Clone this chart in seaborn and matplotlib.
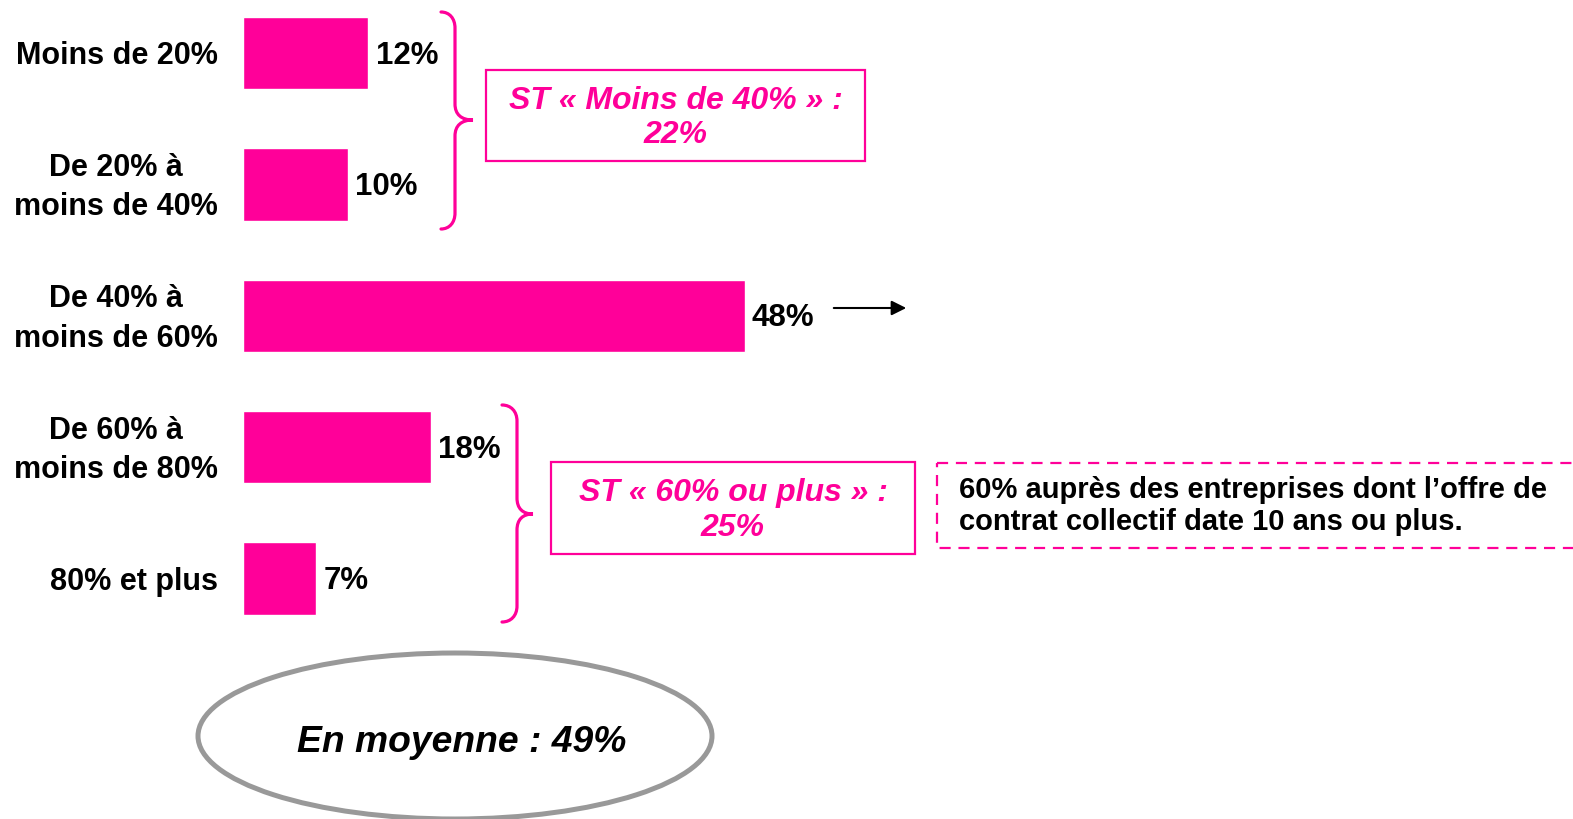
import matplotlib
matplotlib.use("Agg")
import matplotlib.pyplot as plt
import seaborn as sns
from matplotlib.patches import Rectangle, Ellipse, PathPatch
from matplotlib.path import Path

# data
categories = ["Moins de 20%", "De 20% à\nmoins de 40%", "De 40% à\nmoins de 60%",
              "De 60% à\nmoins de 80%", "80% et plus"]
values = [12, 10, 48, 18, 7]
subtotal_labels = ["ST « Moins de 40% » :\n22%", "ST « 60% ou plus » :\n25%"]
note_text = "60% auprès des entreprises dont l\u2019offre de\ncontrat collectif date 10 ans ou plus."
mean_text = "En moyenne : 49%"

PINK = "#FF0099"
W, H = 1573, 819

sns.set_theme(style="white")
plt.rcParams["font.family"] = ["Liberation Sans", "DejaVu Sans"]

fig = plt.figure(figsize=(W / 100, H / 100), dpi=100)
ax = fig.add_axes([243 / W, 0, 1 - 243 / W, 1])

sns.barplot(x=values, y=categories, orient="h", color=PINK, saturation=1,
            width=0.55, ax=ax)

px_per_unit = 10.45
ax.set_xlim(0, (W - 243) / px_per_unit)
ax.set_ylim((H - 53) / 131.4, -53 / 131.4)
ax.set_xticks([])
ax.set_xlabel("")
ax.set_ylabel("")
sns.despine(ax=ax, left=True, bottom=True)
ax.tick_params(axis="y", length=0, labelleft=False)

# category labels, right-aligned left of the bars
for i, cat in enumerate(categories):
    ax.text(-25 / (W - 243), i + 0.025, cat, transform=ax.get_yaxis_transform(),
            ha="right", va="center", multialignment="center", fontsize=22,
            fontweight="bold", color="black", linespacing=1.4)

for i, v in enumerate(values):
    ax.text(v + 0.7, i + 0.02, f"{v}%", va="center", ha="left", fontsize=22.5,
            fontweight="bold", color="black")

# decorations in pixel coordinates
ov = fig.add_axes([0, 0, 1, 1], zorder=5)
ov.set_xlim(0, W)
ov.set_ylim(H, 0)
ov.axis("off")
ov.patch.set_alpha(0)


def brace(x0, x1, x2, ya, yb, ym, r=16):
    verts = [(x0, ya),
             (x0 + (x1 - x0) * 0.6, ya), (x1, ya + r * 0.4), (x1, ya + r),
             (x1, ym - r),
             (x1, ym - r * 0.35), (x1 + (x2 - x1) * 0.35, ym), (x2, ym),
             (x1 + (x2 - x1) * 0.35, ym), (x1, ym + r * 0.35), (x1, ym + r),
             (x1, yb - r),
             (x1, yb - r * 0.4), (x0 + (x1 - x0) * 0.6, yb), (x0, yb)]
    codes = [Path.MOVETO,
             Path.CURVE4, Path.CURVE4, Path.CURVE4,
             Path.LINETO,
             Path.CURVE4, Path.CURVE4, Path.CURVE4,
             Path.CURVE4, Path.CURVE4, Path.CURVE4,
             Path.LINETO,
             Path.CURVE4, Path.CURVE4, Path.CURVE4]
    ov.add_patch(PathPatch(Path(verts, codes), fill=False, edgecolor=PINK,
                           lw=2.3, capstyle="round"))


brace(441, 455, 473, 12, 229, 120)
brace(502, 517, 533, 405, 622, 514)

# subtotal boxes
for (x0, y0, x1, y1), label in zip([(486, 70, 865, 161), (551, 462, 915, 554)],
                                   subtotal_labels):
    ov.add_patch(Rectangle((x0, y0), x1 - x0, y1 - y0, fill=False,
                           edgecolor=PINK, lw=1.6))
    ov.text((x0 + x1) / 2, (y0 + y1) / 2 + 2.5, label, ha="center", va="center",
            fontsize=23, fontweight="bold", fontstyle="italic", color=PINK,
            linespacing=1.2)

# arrow next to 48%
ov.annotate("", xy=(909, 308), xytext=(831, 308),
            arrowprops=dict(arrowstyle="-|>", color="black", lw=1.5,
                            mutation_scale=22))

# dashed note box
ov.add_patch(Rectangle((937, 463), 700, 85, fill=False, edgecolor=PINK,
                       lw=1.6, linestyle=(0, (5, 3.5))))
ov.text(959, 506, note_text, ha="left", va="center", fontsize=21,
        fontweight="bold", color="black", linespacing=1.2)

# average ellipse
ov.add_patch(Ellipse((455, 736), 514, 166, facecolor="white",
                     edgecolor="#999999", lw=3.6))
ov.text(462, 742, mean_text, ha="center", va="center", fontsize=26.8,
        fontweight="bold", fontstyle="italic", color="black")

fig.savefig("out.png", dpi=100)
